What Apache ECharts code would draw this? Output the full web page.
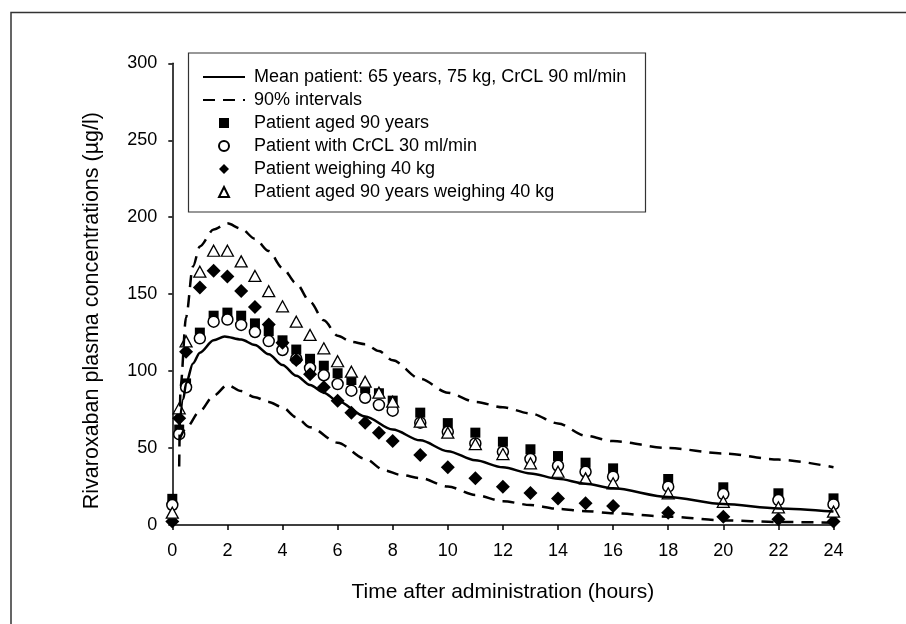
<!DOCTYPE html>
<html>
<head>
<meta charset="utf-8" />
<title>Rivaroxaban plasma concentrations</title>
<script src="https://cdn.jsdelivr.net/npm/echarts@6/dist/echarts.min.js"></script>
<style>
  html, body { margin: 0; padding: 0; background: #fff; }
  #main { width: 906px; height: 624px; }
</style>
</head>
<body>
<div id="main"></div>
<script>
// sampling times (hours)
var times = [0, 0.25, 0.5, 1, 1.5, 2, 2.5, 3, 3.5, 4, 4.5, 5, 5.5, 6, 6.5, 7, 7.5, 8,
  9, 10, 11, 12, 13, 14, 15, 16, 18, 20, 22, 24];

// patient groups (µg/l)
var aged90 = [17, 62, 92, 125, 136, 138, 136, 131, 126, 120, 114, 108, 103.5, 98.6, 94.2, 88.8, 85.6, 80.8,
  73, 66.2, 60, 54.1, 49.2, 44.8, 40.5, 36.8, 29.9, 24.5, 20.6, 17.3];
var crcl30 = [13, 59, 89.5, 121.3, 132.1, 133.5, 130, 125.4, 119.5, 113.7, 108, 102, 97.3, 91.6, 87.3, 82.7, 78, 74.3,
  66.5, 60.6, 53, 47.6, 42.9, 38.5, 34.6, 31.4, 24.9, 20.1, 16.2, 13.4];
var weigh40 = [2.2, 69.3, 112.5, 154.4, 165.2, 161.5, 152, 141.6, 130.3, 118.5, 107.2, 98, 89.5, 80.8, 73, 66.5, 60, 54.6,
  45.5, 37.5, 30.3, 24.9, 20.8, 17.3, 14.1, 12.3, 8, 5.4, 3.7, 2.2];
var aged90w40 = [8, 75.8, 119.3, 164.6, 178.2, 178.2, 171.3, 161.8, 151.9, 142.1, 132.1, 123.5, 114.8, 106.4, 99.6, 93.1, 86, 80.1,
  67.1, 60, 52.6, 46.1, 40.1, 34.6, 30.3, 27.1, 20.6, 15.1, 11.5, 8.7];

// model curves [time, conc]
var meanCurve = [[0.25, 62], [0.4, 82], [0.5, 92], [0.75, 105], [1, 112], [1.5, 120], [1.9, 122.5], [2.5, 120.5],
  [3, 117], [3.5, 111], [4, 104], [4.5, 97], [5, 91], [5.5, 86], [6, 80.5], [7, 70.5], [8, 62], [9, 55], [10, 48],
  [11, 42], [12, 37.5], [13, 33.5], [14, 30], [15, 26.8], [16, 23.8], [18, 18.2], [20, 13.6], [22, 10.8], [24, 8.7]];
var upperCurve = [[0.25, 38], [0.3, 90], [0.5, 135], [0.75, 168], [1, 181], [1.5, 192], [2, 196], [2.5, 192.5],
  [3, 186], [3.5, 178], [4, 167], [4.5, 157], [5, 145], [5.5, 133], [6, 123], [6.5, 119], [7, 117.5], [7.5, 113],
  [8, 107], [9, 95], [10, 86], [11, 80], [12, 76.5], [13, 72.5], [14, 66], [15, 58], [16, 54.5], [18, 50],
  [20, 46.5], [22, 42.5], [24, 37.5]];
var lowerCurve = [[0.25, 55], [0.5, 63], [1, 74], [1.5, 84], [2, 91], [2.5, 87], [3, 83], [3.5, 80], [4, 76.5],
  [4.5, 70], [5, 63.5], [6, 53.5], [7, 43], [7.7, 35.5], [8.3, 32.5], [9, 30.5], [10, 25], [11, 19.5], [12, 15.5],
  [13, 13], [14, 10.5], [15, 9], [16, 7.6], [18, 5.4], [20, 3], [22, 2], [24, 1.5]];

var lineNames = ['Mean patient: 65 years, 75 kg, CrCL 90 ml/min', '90% intervals'];
var markNames = ['Patient aged 90 years', 'Patient with CrCL 30 ml/min', 'Patient weighing 40 kg',
  'Patient aged 90 years weighing 40 kg'];

var font = '"Liberation Sans", Arial, sans-serif';

function pairs(vals) {
  return times.map(function (t, i) { return [t, vals[i]]; });
}

// line entries in the legend: hide the dot echarts puts on the line sample
var noDot = { color: 'rgba(0,0,0,0)', borderWidth: 0, opacity: 0 };
var legendText = { fontFamily: font, fontSize: 18, color: '#000' };

var chart = echarts.init(document.getElementById('main'));
chart.setOption({
  backgroundColor: '#fff',
  animation: false,
  textStyle: { fontFamily: font, color: '#000' },
  grid: { left: 172.3, right: 72.5, top: 63.3, bottom: 99, outerBoundsMode: 'none' },
  // two legends share one box: line samples are wide, marker samples are square
  legend: [{
    data: [{ name: lineNames[0], itemStyle: noDot }, { name: lineNames[1], itemStyle: noDot }],
    orient: 'vertical',
    left: 202, top: 68, padding: 0,
    itemGap: 5, itemWidth: 42, itemHeight: 10,
    selectedMode: false,
    textStyle: Object.assign({ padding: [0, 0, 0, 4] }, legendText)
  }, {
    data: markNames,
    orient: 'vertical',
    left: 218, top: 114, padding: 0,
    itemGap: 5, itemWidth: 10, itemHeight: 10,
    selectedMode: false,
    textStyle: Object.assign({ padding: [0, 0, 0, 20] }, legendText)
  }],
  xAxis: {
    type: 'value',
    min: 0, max: 24, interval: 2,
    name: 'Time after administration (hours)',
    nameLocation: 'middle',
    nameGap: 57,
    nameTextStyle: { fontFamily: font, fontSize: 21, color: '#000' },
    axisLine: { show: true, onZero: false, lineStyle: { color: '#000', width: 1.5 } },
    axisTick: { show: true, inside: false, length: 5, lineStyle: { color: '#000', width: 1.5 } },
    axisLabel: { fontFamily: font, fontSize: 18, color: '#000', margin: 17 },
    splitLine: { show: false }
  },
  yAxis: {
    type: 'value',
    min: 0, max: 300, interval: 50,
    name: 'Rivaroxaban plasma concentrations (µg/l)',
    nameLocation: 'middle',
    nameRotate: 90,
    nameGap: 69,
    nameTextStyle: { fontFamily: font, fontSize: 21.5, color: '#000', padding: [0, 33, 0, 0] },
    axisLine: { show: true, onZero: false, lineStyle: { color: '#000', width: 1.5 } },
    axisTick: { show: true, inside: false, length: 4, lineStyle: { color: '#000', width: 1.5 } },
    axisLabel: { fontFamily: font, fontSize: 18, color: '#000', margin: 15 },
    splitLine: { show: false }
  },
  graphic: [{
    type: 'polyline',
    shape: { points: [[11, 624], [11, 12.5], [906, 12.5]] },
    style: { stroke: '#333', lineWidth: 1.5, fill: null },
    silent: true
  }, {
    // legend box
    type: 'rect',
    shape: { x: 188.5, y: 53, width: 457, height: 159 },
    style: { stroke: '#333', lineWidth: 1.2, fill: null },
    silent: true
  }],
  series: [
    {
      name: lineNames[0], type: 'line', data: meanCurve, symbol: 'none',
      smooth: 0.3, smoothMonotone: 'x',
      lineStyle: { color: '#000', width: 2.5, type: 'solid' }, itemStyle: { color: '#000' }
    },
    {
      name: lineNames[1], type: 'line', data: upperCurve, symbol: 'none',
      smooth: 0.3, smoothMonotone: 'x',
      lineStyle: { color: '#000', width: 2.5, type: [12, 8] }, itemStyle: { color: '#000' }
    },
    {
      name: lineNames[1], type: 'line', data: lowerCurve, symbol: 'none',
      smooth: 0.3, smoothMonotone: 'x',
      lineStyle: { color: '#000', width: 2.5, type: [12, 8] }, itemStyle: { color: '#000' }
    },
    {
      name: markNames[0], type: 'scatter', data: pairs(aged90),
      symbol: 'rect', symbolSize: 10,
      itemStyle: { color: '#000', opacity: 1 }
    },
    {
      name: markNames[1], type: 'scatter', data: pairs(crcl30),
      symbol: 'circle', symbolSize: 11,
      itemStyle: { color: '#fff', borderColor: '#000', borderWidth: 1.5, opacity: 1 }
    },
    {
      name: markNames[2], type: 'scatter', data: pairs(weigh40),
      symbol: 'diamond', symbolSize: 14,
      itemStyle: { color: '#000', opacity: 1 }
    },
    {
      name: markNames[3], type: 'scatter', data: pairs(aged90w40),
      symbol: 'triangle', symbolSize: [12, 11],
      itemStyle: { color: '#fff', borderColor: '#000', borderWidth: 1.3, opacity: 1 }
    }
  ]
});

window.onresize = function () {
  chart.resize();
};
</script>
</body>
</html>
